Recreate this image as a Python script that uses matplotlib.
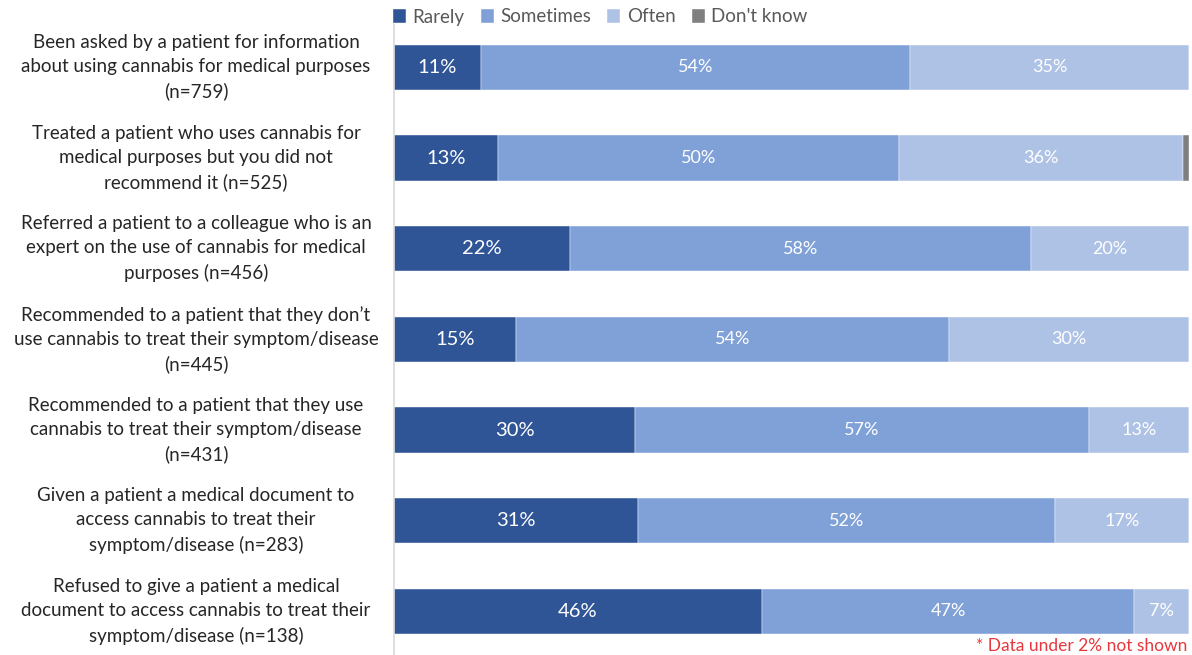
import matplotlib.pyplot as plt
import matplotlib.transforms as mtransforms
import numpy as np

# survey items (top to bottom)
labels = [
    "Been asked by a patient for information\nabout using cannabis for medical purposes\n(n=759)",
    "Treated a patient who uses cannabis for\nmedical purposes but you did not\nrecommend it (n=525)",
    "Referred a patient to a colleague who is an\nexpert on the use of cannabis for medical\npurposes (n=456)",
    "Recommended to a patient that they don\u2019t\nuse cannabis to treat their symptom/disease\n(n=445)",
    "Recommended to a patient that they use\ncannabis to treat their symptom/disease\n(n=431)",
    "Given a patient a medical document to\naccess cannabis to treat their\nsymptom/disease (n=283)",
    "Refused to give a patient a medical\ndocument to access cannabis to treat their\nsymptom/disease (n=138)",
]

series_names = ["Rarely", "Sometimes", "Often", "Don't know"]
rarely = [10.9, 13.1, 22.1, 15.4, 30.3, 30.7, 46.3]
sometimes = [54.0, 50.4, 58.0, 54.4, 57.1, 52.4, 46.8]
often = [35.1, 35.7, 19.9, 30.2, 12.6, 16.9, 6.9]
dont_know = [0.0, 0.8, 0.0, 0.0, 0.0, 0.0, 0.0]

colors = ["#2F5597", "#7FA1D8", "#AEC2E5", "#7F7F7F"]

plt.rcParams['font.family'] = ['Lato', 'DejaVu Sans']

fig = plt.figure(figsize=(11.92, 6.55), dpi=100)
ax = fig.add_axes([394 / 1192, 0.0, 795 / 1192, 1 - 22 / 655])

y = np.arange(len(labels))
left = np.zeros(len(labels))
all_series = [rarely, sometimes, often, dont_know]
for i, (name, vals) in enumerate(zip(series_names, all_series)):
    vals = np.array(vals)
    ax.barh(y, vals, left=left, height=0.5, color=colors[i], label=name,
            edgecolor='white', linewidth=0.3)
    for yi, (l, v) in enumerate(zip(left, vals)):
        if v >= 2:
            ax.text(l + v / 2, yi, f"{v:.0f}%", ha='center', va='center',
                    color='white', fontsize=14.5 if i == 0 else 13)
    left += vals

ax.set_xlim(0, 100)
ax.set_ylim(6.48, -0.5)
ax.set_xticks([])
ax.set_yticks([])
for s in ['top', 'right', 'bottom']:
    ax.spines[s].set_visible(False)
ax.spines['left'].set_color('#D9D9D9')
ax.spines['left'].set_linewidth(1.2)

# category labels, centred in the left margin
trans = mtransforms.blended_transform_factory(fig.transFigure, ax.transData)
for yi, lab in enumerate(labels):
    ax.text(196 / 1192, yi, lab, transform=trans, ha='center', va='center',
            multialignment='center', fontsize=13.5, color='#262626',
            linespacing=1.5, clip_on=False)

leg = fig.legend(loc='center left', bbox_to_anchor=(393 / 1192, 1 - 17 / 655),
                 ncol=4, frameon=False, fontsize=13.5, handlelength=0.7,
                 handleheight=0.7, handletextpad=0.35, columnspacing=0.85,
                 borderaxespad=0, borderpad=0)
for t in leg.get_texts():
    t.set_color('#595959')

fig.text(1187 / 1192, 1 - 646 / 655, "* Data under 2% not shown", ha='right',
         va='center', color='#E8383D', fontsize=12.5)

fig.savefig('out.png', dpi=100)
